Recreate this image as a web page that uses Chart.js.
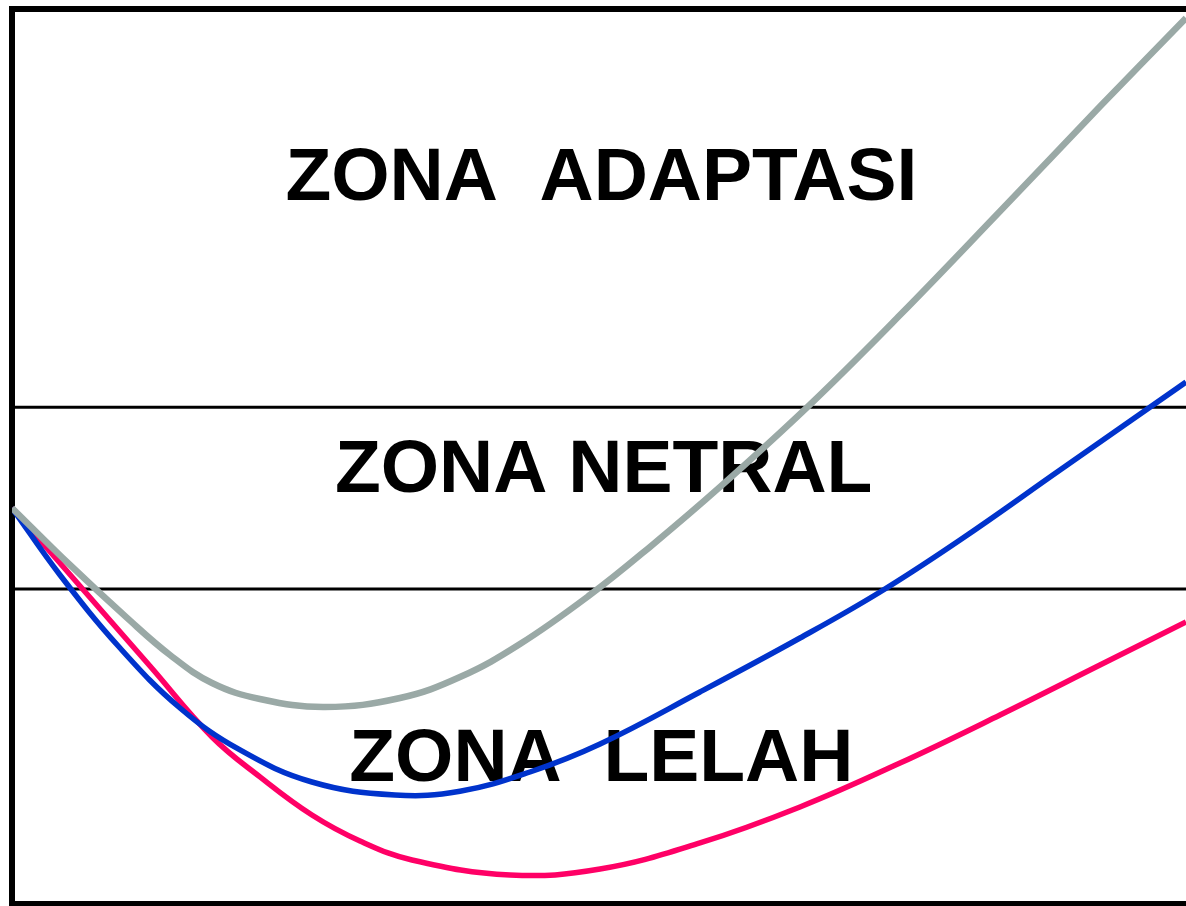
<!DOCTYPE html>
<html>
<head>
<meta charset="utf-8">
<script src="https://cdn.jsdelivr.net/npm/chart.js@4"></script>
<style>
  html, body { margin: 0; padding: 0; background: #fff; }
  #wrap { width: 1186px; height: 906px; }
</style>
</head>
<body>
<div id="wrap"><canvas id="zonaChart" width="1186" height="906"></canvas></div>
<script>
// curve readings (x: 0..10, y: 0..100)
const adaptasiX = [0, 0.494, 0.980, 1.346, 1.704, 2.112, 2.666, 3.305, 3.816, 4.327, 4.923, 5.434, 6.031, 6.797, 7.564, 8.416, 9.267, 10];
const adaptasiY = [44.25, 37.88, 31.96, 27.82, 24.69, 22.91, 22.01, 23.02, 25.36, 29.05, 34.53, 39.90, 46.60, 55.80, 65.80, 77.40, 89.10, 98.99];

const netralX = [0, 0.409, 0.920, 1.431, 1.942, 2.555, 3.262, 3.816, 4.412, 5.009, 5.860, 6.712, 7.394, 8.075, 8.927, 10];
const netralY = [44.25, 36.76, 28.60, 21.90, 17.21, 13.63, 12.18, 12.60, 14.75, 17.88, 23.69, 29.72, 34.86, 40.67, 48.49, 58.32];

const lelahX = [0, 0.579, 1.175, 1.704, 2.112, 2.555, 2.964, 3.407, 4.242, 5.009, 5.860, 6.712, 7.564, 8.416, 9.267, 10];
const lelahY = [44.25, 35.53, 26.59, 18.66, 14.20, 9.94, 7.04, 4.92, 3.24, 3.91, 6.82, 10.84, 15.75, 21.12, 26.70, 31.51];

// zone boundaries
const batasAtas = 55.5;
const batasBawah = 35.2;

// zone labels
const zonaLabels = ['ZONA  ADAPTASI', 'ZONA NETRAL', 'ZONA  LELAH'];
const zonaLabelX = [5.02, 5.04, 5.02];
const zonaLabelY = [78.7, 46.0, 13.7];

const toPoints = (xs, ys) => xs.map((x, i) => ({ x: x, y: ys[i] }));

const bingkaiPlugin = {
    id: 'bingkai',
    beforeDatasetsDraw(chart) {
        const { ctx, chartArea, scales } = chart;
        ctx.save();
        // text sits behind the curves
        ctx.fillStyle = '#000';
        ctx.font = 'bold 75px "Liberation Sans", Arial, sans-serif';
        ctx.textAlign = 'center';
        ctx.textBaseline = 'alphabetic';
        zonaLabels.forEach((t, i) => {
            ctx.fillText(t, scales.x.getPixelForValue(zonaLabelX[i]), scales.y.getPixelForValue(zonaLabelY[i]));
        });
        // frame: left, top, bottom
        ctx.strokeStyle = '#000';
        ctx.lineWidth = 6;
        ctx.beginPath();
        ctx.moveTo(chartArea.right + 10, chartArea.top);
        ctx.lineTo(chartArea.left, chartArea.top);
        ctx.lineTo(chartArea.left, chartArea.bottom);
        ctx.lineTo(chartArea.right + 10, chartArea.bottom);
        ctx.stroke();
        ctx.restore();
    }
};

const ctx = document.getElementById('zonaChart').getContext('2d');
new Chart(ctx, {
    type: 'line',
    data: {
        datasets: [
            {
                label: 'Adaptasi',
                data: toPoints(adaptasiX, adaptasiY),
                borderColor: '#9aa9a6',
                borderWidth: 6.5,
                tension: 0.4
            },
            {
                label: 'Netral',
                data: toPoints(netralX, netralY),
                borderColor: '#0033cc',
                borderWidth: 5.5,
                tension: 0.4
            },
            {
                label: 'Lelah',
                data: toPoints(lelahX, lelahY),
                borderColor: '#ff0066',
                borderWidth: 5.5,
                tension: 0.4
            },
            {
                label: 'Batas atas',
                data: [{ x: 0, y: batasAtas }, { x: 10, y: batasAtas }],
                borderColor: '#000',
                borderWidth: 3
            },
            {
                label: 'Batas bawah',
                data: [{ x: 0, y: batasBawah }, { x: 10, y: batasBawah }],
                borderColor: '#000',
                borderWidth: 3
            }
        ]
    },
    options: {
        responsive: false,
        animation: false,
        devicePixelRatio: 1,
        layout: { padding: { left: 12, top: 9, right: 0, bottom: 2 } },
        elements: { point: { radius: 0 } },
        plugins: {
            legend: { display: false },
            tooltip: { enabled: false }
        },
        scales: {
            x: { type: 'linear', min: 0, max: 10, display: false },
            y: { type: 'linear', min: 0, max: 100, display: false }
        }
    },
    plugins: [bingkaiPlugin]
});
</script>
</body>
</html>
